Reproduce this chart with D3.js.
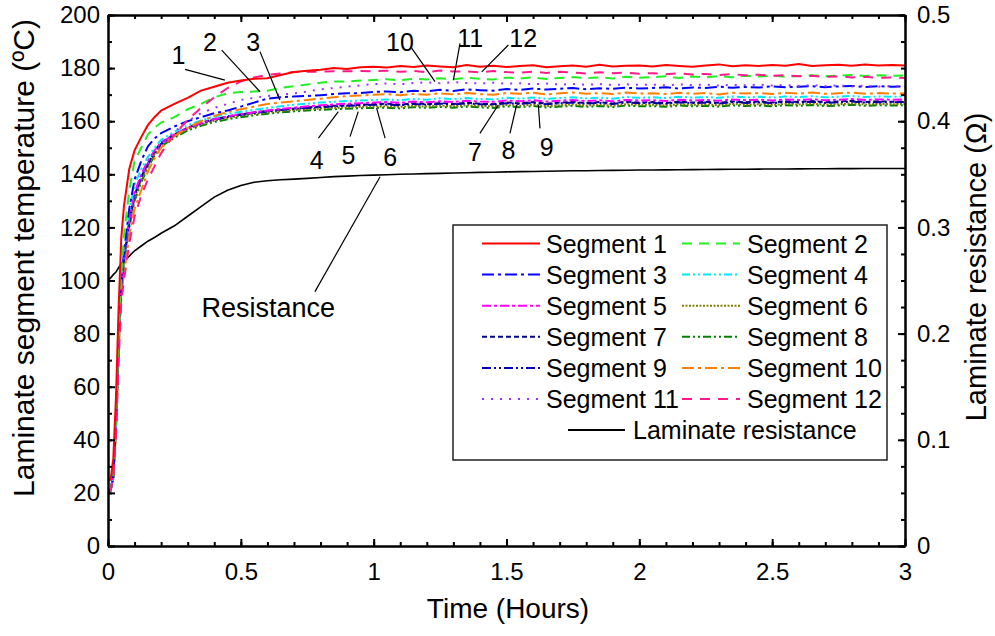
<!DOCTYPE html>
<html>
<head>
<meta charset="utf-8">
<script src="https://cdn.jsdelivr.net/npm/d3@7"></script>
<style>
  html, body { margin: 0; padding: 0; background: #fff; }
  svg { display: block; }
</style>
</head>
<body>
<svg id="chart" width="995" height="636"></svg>
<script>
// ---------------- DATA ----------------
const time = [0,0.01,0.02,0.03,0.04,0.05,0.06,0.08,0.1,0.125,0.15,0.175,0.2,
  0.25,0.3,0.35,0.4,0.45,0.5,0.55,0.6,0.65,0.7,0.75,0.8,0.85,0.9,0.95,1.0,
  1.05,1.1,1.15,1.2,1.25,1.3,1.35,1.4,1.45,1.5,1.55,1.6,1.65,1.7,1.75,1.8,1.85,1.9,1.95,2.0,
  2.05,2.1,2.15,2.2,2.25,2.3,2.35,2.4,2.45,2.5,2.55,2.6,2.65,2.7,2.75,2.8,2.85,2.9,2.95,3.0];

const seg1 = [25,25,33,56,90,116,128,142,149,154,158.5,161.5,164,
  166.5,168.8,171.5,173,174.5,175.3,176,176.2,177.4,178.5,179,179.4,180,179.7,180.3,180.5,
  180.2,180.8,180.4,181,180.6,180.3,181.2,180.5,180.9,180.4,180.8,181.1,180.3,180.7,181,180.5,181.3,180.6,180.9,181,
  180.6,181.2,180.8,180.5,181,181.4,180.7,181.1,180.8,181.2,180.9,181.5,180.8,181.1,181.3,180.9,181.4,181,181.2,181];
const seg2 = [21,21,27,47,78,102,117,134,145,150,155,157.5,159.5,
  161.5,164.5,166.5,169,170.5,171,171.2,171.5,172.5,173.2,173.8,174.5,175,175,175.3,175.5,
  175.8,175.4,176,175.7,176.2,175.8,176.3,176,175.7,176.4,176.1,176.5,175.9,176.3,176.6,176.2,176.5,176.1,176.7,176.4,
  176.6,176.9,176.3,176.8,176.5,177,176.6,177.1,176.8,177.2,176.7,177,177.3,176.9,177.2,177.4,177,177.3,177.1,177.2];
const seg3 = [21,21,27,46,76,98,110,127,138,145,150.5,153.5,155.5,
  158,160,161.5,163,164,165.5,167,168.5,169,169.3,169.5,169.8,170.2,170.5,170.6,171,
  171.2,170.9,171.5,171.3,171.8,171.4,172,171.7,171.5,172.1,171.8,172.3,171.9,172.2,172.5,172,172.4,172.2,172.6,172.3,
  172.5,172.8,172.3,172.7,172.5,173,172.6,172.9,172.7,173.1,172.8,173,173.2,172.8,173.1,173.3,172.9,173.2,173,173.1];
const seg4 = [21,21,27,47,78,100,111,126,136,142,146.5,150,153,
  156,158.5,160.3,161.7,162.8,163.6,164.3,165,165.6,166.2,166.6,167,167.3,167.6,167.8,168,
  168.2,167.9,168.4,168.1,168.6,168.3,168.7,168.4,168.2,168.8,168.5,168.9,168.4,168.7,169,168.6,168.9,168.5,169.1,168.8,
  169,168.7,169.2,168.9,169.1,168.8,169.3,169,169.2,168.9,169.3,169.1,169.4,169,169.2,169.5,169.1,169.3,169.2,169.3];
const seg5 = [21,21,27,46,77,99,109,123,133,140,145,149,152,
  155,157.5,159.3,160.8,161.8,162.7,163.4,164,164.6,165.1,165.6,166,166.3,166.6,166.8,167,
  167.2,166.9,167.4,167.1,167.5,167.2,167.7,167.4,167.3,167.8,167.5,167.9,167.4,167.7,168,167.6,167.9,167.5,168,167.8,
  167.9,167.6,168.1,167.8,168,167.7,168.2,167.9,168.1,167.8,168.2,168,168.3,167.9,168.1,168.4,168,168.2,168.1,168.2];
const seg6 = [21,21,26,45,75,97,107,121,131,138,143,147.5,151,
  154.3,157,158.8,160.2,161.2,162,162.7,163.3,163.8,164.2,164.5,164.8,165,165.2,165.4,165.5,
  165.6,165.4,165.8,165.5,165.9,165.6,166,165.7,165.6,166.1,165.8,166.2,165.7,166,166.3,165.9,166.2,165.8,166.4,166.1,
  166.2,165.9,166.4,166.1,166.3,166,166.5,166.2,166.4,166.1,166.5,166.3,166.6,166.2,166.4,166.7,166.3,166.5,166.4,166.5];
const seg7 = [20,21,26,45,76,98,108,122,132,139,144,148.5,152,
  155,157.6,159.4,160.8,161.8,162.6,163.3,163.9,164.4,164.8,165.2,165.5,165.8,166,166.2,166.4,
  166.6,166.2,166.8,166.4,166.9,166.5,167,166.6,166.4,167.1,166.7,167.2,166.6,167,167.3,166.8,167.2,166.7,167.4,167,
  167.2,166.8,167.4,167,167.3,166.9,167.5,167.1,167.4,167,167.5,167.2,167.6,167.1,167.4,167.7,167.2,167.5,167.3,167.4];
const seg8 = [20,21,26,44,74,96,106,120,130,137,142.5,147,150.5,
  153.8,156.5,158.3,159.7,160.7,161.5,162.2,162.8,163.3,163.7,164,164.3,164.5,164.7,164.9,165,
  165.1,164.8,165.3,165,165.4,165.1,165.5,165.2,165,165.6,165.3,165.7,165.2,165.5,165.8,165.4,165.7,165.3,165.9,165.6,
  165.7,165.4,165.9,165.6,165.8,165.5,166,165.7,165.9,165.6,166,165.8,166.1,165.7,165.9,166.2,165.8,166,165.9,166];
const seg9 = [20,21,26,45,76,98,108,122,132,139,144,148,151.5,
  154.8,157.4,159.2,160.6,161.6,162.4,163.1,163.7,164.2,164.6,165,165.3,165.6,165.8,166,166.2,
  166.3,166,166.5,166.2,166.6,166.3,166.7,166.4,166.2,166.8,166.5,166.9,166.4,166.7,167,166.6,166.9,166.5,167.1,166.8,
  166.9,166.6,167.1,166.8,167,166.7,167.2,166.9,167.1,166.8,167.2,167,167.3,166.9,167.1,167.4,167,167.2,167.1,167.2];
const seg10 = [21,21,26,44,73,95,102,117,127,134,141,146,150,
  154.5,157.5,160,162,163.5,164.5,165.5,166.5,167,167.5,168,168.5,169,169.5,169.7,170,
  170.2,169.8,170.3,170,170.5,170.1,170.6,170.2,170,170.6,170.3,170.7,170.1,170.5,170.8,170.3,170.6,170.2,170.8,170.4,
  170.5,170.2,170.7,170.3,170.6,170.1,170.7,170.4,170.6,170.2,170.7,170.4,170.8,170.3,170.5,170.8,170.3,170.6,170.4,170.5];
const seg11 = [21,21,27,46,76,98,108,122,131,138,144,148,151,
  156,160,163,165,166.5,168,168.8,169.5,170,170.5,171.2,172,172.5,173,173.5,174,
  174.2,173.9,174.4,174.6,174.3,174.7,174.4,174.2,174.5,174.1,174.3,173.9,174.2,173.8,174,173.7,174,173.6,173.9,173.7,
  173.8,173.5,173.9,173.6,173.8,173.4,173.7,173.5,173.8,173.4,173.6,173.3,173.6,173.2,173.5,173.1,173.4,173,173.3,173.1];
const seg12 = [21,21,26,42,70,92,100,114,124,132,138,143,148,
  155,160.5,165,169,172.5,175,176.5,177.5,178,178.5,178.6,178.7,178.8,178.8,178.9,178.8,
  179,178.6,178.9,178.5,179.1,178.7,178.8,178.4,178.9,178.5,178.3,178.7,178.2,178.6,178.3,178,178.4,178.1,178.3,177.9,
  178.1,177.7,178,177.6,177.8,177.4,177.7,177.3,177.5,177.1,177.3,176.9,177.1,176.7,176.9,176.5,176.7,176.3,176.5,176.3];
const resistance = [0.250,0.2525,0.2555,0.258,0.262,0.266,0.2685,0.273,0.278,0.2825,0.287,0.2905,0.2945,
  0.3015,0.3105,0.3195,0.3285,0.3350,0.3395,0.3425,0.344,0.3448,0.3455,0.3462,0.347,0.3478,0.3483,0.3488,0.3492,
  0.3496,0.35,0.3503,0.3506,0.3509,0.3512,0.3515,0.3518,0.352,0.3523,0.3525,0.3527,0.3529,0.3531,0.3533,0.3534,0.3536,0.3537,0.3538,0.354,
  0.3541,0.3542,0.3543,0.3544,0.3545,0.3546,0.3547,0.3548,0.3549,0.355,0.355,0.3551,0.3552,0.3552,0.3553,0.3553,0.3554,0.3554,0.3555,0.3555];

const segmentNames = ["Segment 1","Segment 2","Segment 3","Segment 4","Segment 5","Segment 6",
  "Segment 7","Segment 8","Segment 9","Segment 10","Segment 11","Segment 12"];
const segmentValues = [seg1,seg2,seg3,seg4,seg5,seg6,seg7,seg8,seg9,seg10,seg11,seg12];
const resistanceName = "Laminate resistance";

const xTicks = [0,0.5,1,1.5,2,2.5,3];
const xTickLabels = ["0","0.5","1","1.5","2","2.5","3"];
const yTicks = [0,20,40,60,80,100,120,140,160,180,200];
const yTickLabels = ["0","20","40","60","80","100","120","140","160","180","200"];
const rTicks = [0,0.1,0.2,0.3,0.4,0.5];
const rTickLabels = ["0","0.1","0.2","0.3","0.4","0.5"];

// annotation labels in data units (time in hours, temperature scale)
const annLabels = ["1","2","3","4","5","6","7","8","9","10","11","12","Resistance"];
const annTextT = [0.265,0.384,0.547,0.786,0.905,1.062,1.381,1.507,1.651,1.099,1.363,1.563,0.603];
const annTextY = [184.9,189.9,189.9,145.4,147.3,146.6,148.5,149.2,150.4,189.9,191.2,191.2,89.5];
const annLineT1 = [0.290,0.428,0.572,0.792,0.911,1.043,1.400,1.513,1.626,1.143,1.325,1.507,0.779];
const annLineY1 = [179.5,186.8,186.2,153.6,154.2,153.6,155.4,155.4,157.3,187.5,189.3,188.7,95.8];
const annLineT2 = [0.440,0.572,0.647,0.867,0.942,1.011,1.469,1.538,1.620,1.231,1.300,1.407,1.024];
const annLineY2 = [175.5,171.1,168.0,163.6,163.6,164.9,166.1,166.1,166.1,174.9,175.5,178.6,139.1];

// ---------------- STYLE ----------------
const colors = ["#ff0000","#22ee22","#0000ff","#00e8f8","#ff00ff","#808000",
  "#000080","#008000","#0000b0","#ff8000","#9933ff","#ff1a8c"];
const dashes = ["none","10,7","12,4,3,4","8,3,2,3,2,3","9,3,3,3","2,1.5",
  "5,3","8,3,2,3,2,3","9,3,2,3,2,3","12,4,3,4","2,7","10,8"];
const FONT = "'Liberation Sans', Arial, Helvetica, sans-serif";

const svg = d3.select("#chart");
const W = 995, H = 636;
const plot = {left:108, right:905, top:15, bottom:546};

const x = d3.scaleLinear().domain([0,3]).range([plot.left, plot.right]);
const y = d3.scaleLinear().domain([0,200]).range([plot.bottom, plot.top]);
const yR = d3.scaleLinear().domain([0,0.5]).range([plot.bottom, plot.top]);

svg.append("rect").attr("width",W).attr("height",H).attr("fill","#fff");

svg.append("clipPath").attr("id","clip").append("rect")
  .attr("x",plot.left).attr("y",plot.top)
  .attr("width",plot.right-plot.left).attr("height",plot.bottom-plot.top);

const gLines = svg.append("g").attr("clip-path","url(#clip)");

const lineR = d3.line().x((d,i)=>x(time[i])).y(d=>yR(d));
gLines.append("path").datum(resistance)
  .attr("d",lineR).attr("fill","none").attr("stroke","#000").attr("stroke-width",1.6);

const lineT = d3.line().x((d,i)=>x(time[i])).y(d=>y(d));
const order = [7,5,8,6,4,3,9,2,10,1,11,0];
order.forEach(k=>{
  gLines.append("path").datum(segmentValues[k])
    .attr("d",lineT).attr("fill","none")
    .attr("stroke",colors[k]).attr("stroke-width",2)
    .attr("stroke-dasharray",dashes[k]==="none"?null:dashes[k]);
});

function styleAxis(g){
  g.selectAll(".domain").attr("stroke","#000").attr("stroke-width",2);
  g.selectAll(".tick line").attr("stroke","#000").attr("stroke-width",2);
  g.selectAll("text").attr("font-family",FONT).attr("font-size",24).attr("fill","#000");
}
const xMinor = d3.range(0,3.0001,0.1).map(v=>+v.toFixed(2));
const yMinor = d3.range(0,200.001,10);
const rMinor = d3.range(0,0.5001,0.025).map(v=>+v.toFixed(3));

svg.append("g").attr("transform",`translate(0,${plot.bottom})`)
  .call(d3.axisBottom(x).tickValues(xMinor).tickSize(-4).tickSizeOuter(0).tickFormat(""))
  .call(styleAxis);
svg.append("g").attr("transform",`translate(0,${plot.top})`)
  .call(d3.axisTop(x).tickValues(xMinor).tickSize(-4).tickSizeOuter(0).tickFormat(""))
  .call(styleAxis);
svg.append("g").attr("transform",`translate(${plot.left},0)`)
  .call(d3.axisLeft(y).tickValues(yMinor).tickSize(-4).tickSizeOuter(0).tickFormat(""))
  .call(styleAxis);
svg.append("g").attr("transform",`translate(${plot.right},0)`)
  .call(d3.axisRight(yR).tickValues(rMinor).tickSize(-4).tickSizeOuter(0).tickFormat(""))
  .call(styleAxis);

svg.append("g").attr("transform",`translate(0,${plot.bottom})`)
  .call(d3.axisBottom(x).tickValues(xTicks).tickSize(-7).tickSizeOuter(0).tickPadding(17)
    .tickFormat((d,i)=>xTickLabels[i]))
  .call(styleAxis);
svg.append("g").attr("transform",`translate(0,${plot.top})`)
  .call(d3.axisTop(x).tickValues(xTicks).tickSize(-7).tickSizeOuter(0).tickFormat(""))
  .call(styleAxis);
svg.append("g").attr("transform",`translate(${plot.left},0)`)
  .call(d3.axisLeft(y).tickValues(yTicks).tickSize(-7).tickSizeOuter(0).tickPadding(8)
    .tickFormat((d,i)=>yTickLabels[i]))
  .call(styleAxis);
svg.append("g").attr("transform",`translate(${plot.right},0)`)
  .call(d3.axisRight(yR).tickValues(rTicks).tickSize(-7).tickSizeOuter(0).tickPadding(12)
    .tickFormat((d,i)=>rTickLabels[i]))
  .call(styleAxis);

// axis titles
svg.append("text").attr("x",508).attr("y",618)
  .attr("text-anchor","middle").attr("font-family",FONT).attr("font-size",28)
  .text("Time (Hours)");
svg.append("text").attr("transform",`translate(34,258) rotate(-90)`)
  .attr("text-anchor","middle").attr("font-family",FONT).attr("font-size",30)
  .text("Laminate segment temperature (\u00baC)");
svg.append("text").attr("transform",`translate(986,267) rotate(-90)`)
  .attr("text-anchor","middle").attr("font-family",FONT).attr("font-size",29)
  .text("Laminate resistance (\u03a9)");

// annotations
const gAnn = svg.append("g");
annLabels.forEach((t,i)=>{
  gAnn.append("line")
    .attr("x1",x(annLineT1[i])).attr("y1",y(annLineY1[i]))
    .attr("x2",x(annLineT2[i])).attr("y2",y(annLineY2[i]))
    .attr("stroke","#000").attr("stroke-width",1.2);
  gAnn.append("text").attr("x",x(annTextT[i])).attr("y",y(annTextY[i]))
    .attr("text-anchor","middle").attr("dominant-baseline","central")
    .attr("font-family",FONT).attr("font-size",t.length>2?27:25).text(t);
});

// legend
const lg = svg.append("g");
lg.append("rect").attr("x",453).attr("y",225).attr("width",434).attr("height",235)
  .attr("fill","#fff").attr("stroke","#222").attr("stroke-width",1.5);
const rowY0 = 243.5, rowH = 31.1;
segmentNames.forEach((name,k)=>{
  const col = k%2, row = Math.floor(k/2);
  const cy = rowY0 + row*rowH;
  const lx = col===0 ? 482 : 682;
  lg.append("line").attr("x1",lx).attr("x2",lx+58).attr("y1",cy).attr("y2",cy)
    .attr("stroke",colors[k]).attr("stroke-width",2)
    .attr("stroke-dasharray",dashes[k]==="none"?null:dashes[k]);
  lg.append("text").attr("x",col===0?546:747).attr("y",cy)
    .attr("dominant-baseline","central").attr("font-family",FONT).attr("font-size",25)
    .text(name);
});
{
  const cy = rowY0 + 6*rowH;
  lg.append("line").attr("x1",568).attr("x2",625).attr("y1",cy).attr("y2",cy)
    .attr("stroke","#000").attr("stroke-width",2);
  lg.append("text").attr("x",633).attr("y",cy)
    .attr("dominant-baseline","central").attr("font-family",FONT).attr("font-size",25)
    .text(resistanceName);
}
</script>
</body>
</html>
